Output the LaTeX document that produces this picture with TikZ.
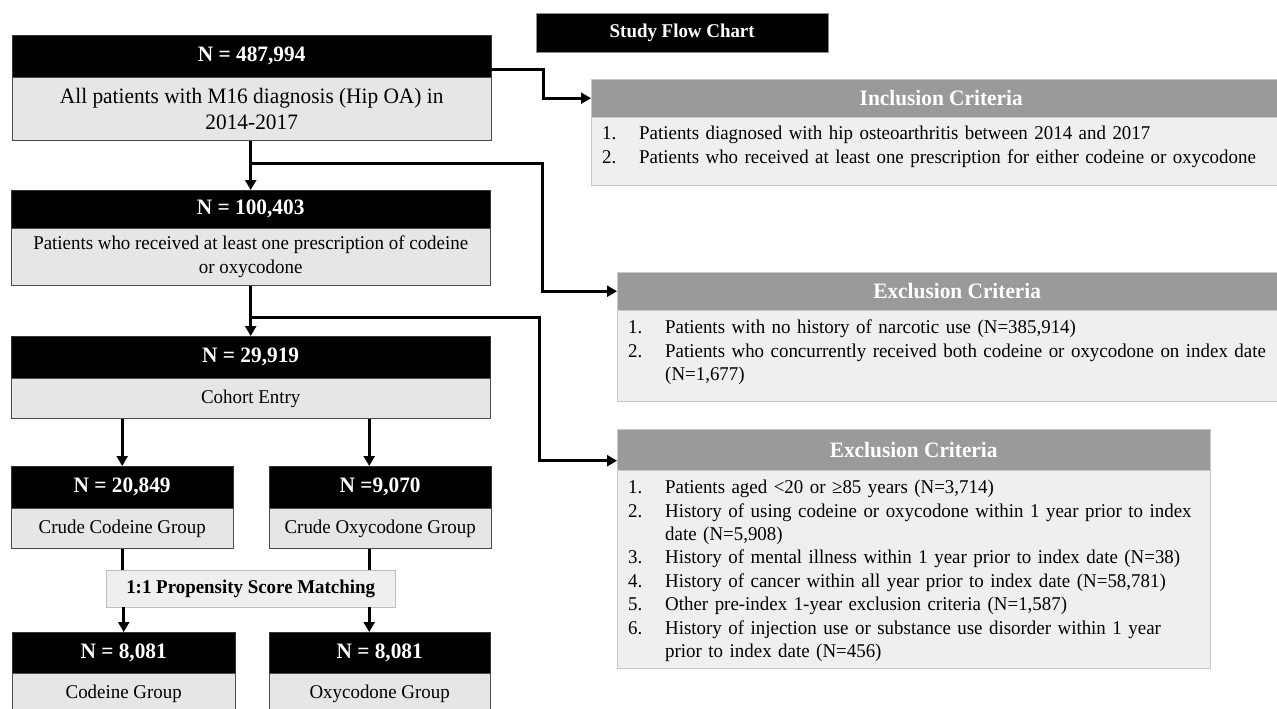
\documentclass[tikz,border=0pt]{standalone}
\usepackage{fontspec}
\setmainfont[FakeStretch=0.97]{Liberation Serif}
\usetikzlibrary{arrows.meta,positioning,calc}

\definecolor{bodygray}{HTML}{E6E6E6}
\definecolor{critgray}{HTML}{9A9A9A}
\definecolor{critbody}{HTML}{EFEFEF}
\definecolor{critline}{HTML}{C8C8C8}

\hyphenpenalty=10000
\newcommand{\critem}[2]{\noindent\hangindent=37pt\hangafter=1\makebox[37pt][l]{#1}#2\par}

\tikzset{
  hdr/.style={draw=black!80, fill=black, text=white, anchor=north west, inner sep=0pt,
    font=\bfseries\fontsize{22}{26}\selectfont},
  bodybox/.style={draw=black!70, fill=bodygray, inner sep=0pt, align=center,
    font=\fontsize{19.5}{24}\selectfont},
  psmbox/.style={draw=black!25, fill=critbody, anchor=north west, inner sep=0pt,
    font=\bfseries\fontsize{19.5}{23}\selectfont},
  charttitle/.style={draw=black!45, fill=black, text=white, anchor=north west, inner sep=0pt,
    font=\bfseries\fontsize{19.5}{23}\selectfont},
  chdr/.style={draw=critline, fill=critgray, text=white, anchor=north west, inner sep=0pt,
    font=\bfseries\fontsize{22}{26}\selectfont},
  cbody/.style={draw=critline, fill=critbody, align=left, inner xsep=11pt, inner ysep=0pt,
    font=\fontsize{19.5}{23.4}\selectfont},
  conn/.style={->, line width=2.8pt}
}

\begin{document}
\begin{tikzpicture}[>={Triangle[length=10pt,width=11pt]}, x=1pt, y=-1pt]
  \path[use as bounding box, fill=white] (0,0) rectangle (1277,709);

  \node[hdr, minimum width=479pt, minimum height=42pt] (h1) at (12,35) {N = 487,994};
  \node[bodybox, minimum width=479pt, minimum height=63pt, below=0pt of h1,
    font=\fontsize{22}{26}\selectfont] (b1) {All patients with M16 diagnosis (Hip OA) in\\2014-2017};

  \node[hdr, minimum width=479pt, minimum height=38pt] (h2) at (11,190) {N = 100,403};
  \node[bodybox, minimum width=479pt, minimum height=57pt, below=0pt of h2] (b2)
    {Patients who received at least one prescription of codeine\\or oxycodone};

  \node[hdr, minimum width=479pt, minimum height=42pt] (h3) at (11,336) {N = 29,919};
  \node[bodybox, minimum width=479pt, minimum height=40pt, below=0pt of h3] (b3) {Cohort Entry};

  \node[hdr, minimum width=222pt, minimum height=42pt] (h4) at (11,466) {N = 20,849};
  \node[bodybox, minimum width=222pt, minimum height=40pt, below=0pt of h4] (b4) {Crude Codeine Group};
  \node[hdr, minimum width=222pt, minimum height=42pt] (h5) at (269,466) {N =9,070};
  \node[bodybox, minimum width=222pt, minimum height=40pt, below=0pt of h5] (b5) {Crude Oxycodone Group};

  \node[psmbox, minimum width=289pt, minimum height=37pt] (psm) at (106,570) {1:1 Propensity Score Matching};

  \node[hdr, minimum width=223pt, minimum height=41pt] (h6) at (12,632) {N = 8,081};
  \node[bodybox, minimum width=223pt, minimum height=40pt, below=0pt of h6] (b6) {Codeine Group};
  \node[hdr, minimum width=221pt, minimum height=41pt] (h7) at (269,632) {N = 8,081};
  \node[bodybox, minimum width=221pt, minimum height=40pt, below=0pt of h7] (b7) {Oxycodone Group};

  \node[charttitle, minimum width=292pt, minimum height=39pt] (title) at (536,13) {Study Flow Chart};

  \node[chdr, minimum width=700pt, minimum height=38pt] (ih) at (591,79) {Inclusion Criteria};
  \node[cbody, text width=678pt, text height=22pt, text depth=46pt, below=0pt of ih] (ib)
    {\critem{1.}{Patients diagnosed with hip osteoarthritis between 2014 and 2017}%
     \critem{2.}{Patients who received at least one prescription for either codeine or oxycodone}};

  \node[chdr, minimum width=680pt, minimum height=38pt] (e1h) at (617,272) {Exclusion Criteria};
  \node[cbody, text width=658pt, text height=23pt, text depth=68pt, below=0pt of e1h] (e1b)
    {\critem{1.}{Patients with no history of narcotic use (N=385,914)}%
     \critem{2.}{Patients who concurrently received both codeine or oxycodone on index date\hfill\break (N=1,677)}};

  \node[chdr, minimum width=593pt, minimum height=41pt] (e2h) at (617,429) {Exclusion Criteria};
  \node[cbody, text width=571pt, text height=23pt, text depth=175pt, below=0pt of e2h] (e2b)
    {\critem{1.}{Patients aged <20 or ≥85 years (N=3,714)}%
     \critem{2.}{History of using codeine or oxycodone within 1 year prior to index\hfill\break date (N=5,908)}%
     \critem{3.}{History of mental illness within 1 year prior to index date (N=38)}%
     \critem{4.}{History of cancer within all year prior to index date (N=58,781)}%
     \critem{5.}{Other pre-index 1-year exclusion criteria (N=1,587)}%
     \critem{6.}{History of injection use or substance use disorder within 1 year\hfill\break prior to index date (N=456)}};

  \coordinate (j1) at ($(h2.north |- b1.south)!0.46!(h2.north)$);
  \coordinate (j2) at ($(h3.north |- b2.south)!0.63!(h3.north)$);
  \coordinate (r5) at ([xshift=-11pt]h5.north);

  \draw[conn] ([yshift=-13pt]h1.east) -- ++(52,0) |- (ih.west);
  \draw[conn] (h2.north |- b1.south) -- (h2.north);
  \draw[conn] (j1) -- ++(292,0) |- (e1h.west);
  \draw[conn] (h3.north |- b2.south) -- (h3.north);
  \draw[conn] (j2) -- ++(289,0) |- ([yshift=-11pt]e2h.west);

  \draw[conn] (b3.south -| h4.north) -- (h4.north);
  \draw[conn] (b3.south -| r5) -- (h5.north -| r5);
  \draw[conn,-] (b4.south -| h4.north) -- (psm.north -| h4.north);
  \draw[conn,-] (b5.south -| r5) -- (psm.north -| r5);
  \draw[conn] (psm.south -| h6.north) -- (h6.north);
  \draw[conn] (psm.south -| r5) -- (h7.north -| r5);
\end{tikzpicture}
\end{document}
